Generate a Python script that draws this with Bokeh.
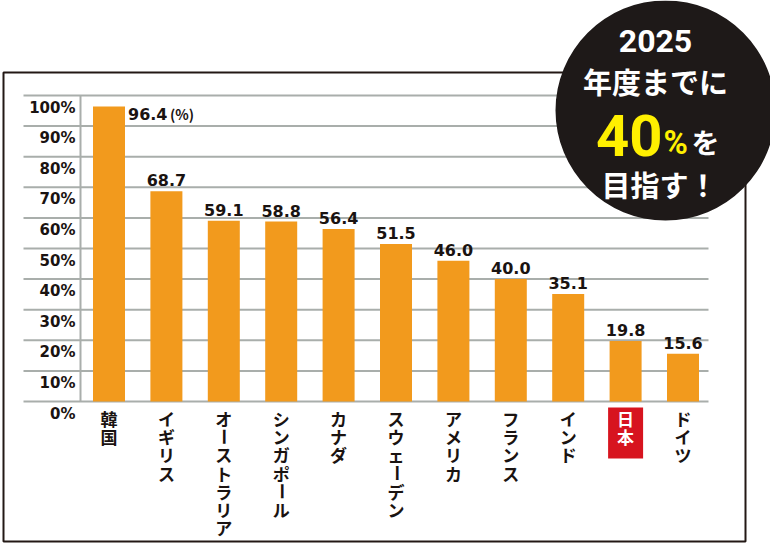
import math
from bokeh.plotting import figure
from bokeh.models import Range1d
from bokeh.core.properties import value
from bokeh.embed import file_html
from bokeh.resources import INLINE

# ---- data ----
countries = ["韓国", "イギリス", "オーストラリア", "シンガポール", "カナダ", "スウェーデン",
             "アメリカ", "フランス", "インド", "日本", "ドイツ"]
rates = [96.4, 68.7, 59.1, 58.8, 56.4, 51.5, 46.0, 40.0, 35.1, 19.8, 15.6]
y_ticks = [0, 10, 20, 30, 40, 50, 60, 70, 80, 90, 100]
y_tick_labels = ["0%", "10%", "20%", "30%", "40%", "50%", "60%", "70%", "80%", "90%", "100%"]
highlight_country = "日本"
unit_label = "(%)"
badge_year = "2025"
badge_line2 = "年度までに"
badge_target = "40"
badge_pct = "%"
badge_wo = "を"
badge_line4 = "目指す！"

# ---- layout (pixel geometry of the canvas) ----
W, H = 770, 544
PX_X = 57.4     # px per category step
PX_Y = 3.06     # px per percent
X0_PX = 108.5   # pixel x of first category centre
Y0_PX = 401.0   # pixel y of the 0% line


def X(px):
    return (px - X0_PX) / PX_X


def Y(py):
    return (Y0_PX - py) / PX_Y


ORANGE = "#F29A1D"
GRID = "#A9AEAB"
INK = "#1A1311"
JP = value("Noto Sans CJK JP")
NUM = value("DejaVu Sans")

p = figure(width=W, height=H, output_backend="svg", toolbar_location=None,
           x_range=Range1d(X(0), X(W)), y_range=Range1d(Y(H), Y(0)),
           x_axis_location=None, y_axis_location=None, min_border=0)
p.grid.visible = False
p.outline_line_color = None
p.background_fill_color = "white"
p.border_fill_color = "white"

n = len(countries)
idx = list(range(n))

# outer frame
p.quad(left=[X(3)], right=[X(745)], top=[Y(72)], bottom=[Y(541)],
       fill_color=None, line_color="#231815", line_width=2)

# grid lines and axis line
p.segment(x0=[X(23)] * len(y_ticks), x1=[X(708)] * len(y_ticks), y0=y_ticks, y1=y_ticks,
          line_color=GRID, line_width=2)
p.segment(x0=[X(80)], x1=[X(80)], y0=[y_ticks[0]], y1=[y_ticks[-1]],
          line_color=GRID, line_width=2)

# y tick labels (sit just below their grid line)
p.text(x=[X(75)] * len(y_ticks), y=[t - 12 / PX_Y for t in y_ticks], text=y_tick_labels,
       text_font=NUM, text_font_style="bold", text_font_size="15px", text_color=INK,
       text_align="right", text_baseline="middle")

# bars
p.vbar(x=idx, top=rates, bottom=0, width=32 / PX_X, fill_color=ORANGE, line_color=None)

# value labels
lx, ly, lt = [], [], []
for i, v in enumerate(rates[1:], start=1):
    lx.append(i)
    ly.append(v + 11 / PX_Y)
    lt.append(f"{v:.1f}")
p.text(x=lx, y=ly, text=lt, text_font=NUM, text_font_style="bold", text_font_size="16px",
       text_color=INK, text_align="center", text_baseline="middle")
# first bar label sits to the right of the bar
p.text(x=[0 + 19 / PX_X], y=[rates[0] - 7 / PX_Y], text=[f"{rates[0]:.1f}"],
       text_font=NUM, text_font_style="bold", text_font_size="16px", text_color=INK,
       text_align="left", text_baseline="middle")
p.text(x=[0 + 61 / PX_X], y=[rates[0] - 7 / PX_Y], text=[unit_label],
       text_font=JP, text_font_style="bold", text_font_size="14px", text_color=INK,
       text_align="left", text_baseline="middle")

# highlight box behind Japan label
hi = countries.index(highlight_country)
p.quad(left=[hi - 17.5 / PX_X], right=[hi + 17.5 / PX_X], top=[-6 / PX_Y], bottom=[-57 / PX_Y],
       fill_color="#D7141F", line_color=None)

# vertical category labels (one character per line)
cx, cy, ct, ca, cc = [], [], [], [], []
for i, name in enumerate(countries):
    for k, ch in enumerate(name):
        cx.append(i)
        cy.append(-(17 + 18.2 * k) / PX_Y)
        ct.append(ch)
        ca.append(math.pi / 2 if ch == "ー" else 0.0)
        cc.append("white" if name == highlight_country else INK)
p.text(x=cx, y=cy, text=ct, angle=ca, text_color=cc, text_font=JP, text_font_style="bold",
       text_font_size="17px", text_align="center", text_baseline="middle")

# badge circle
p.circle(x=[X(665)], y=[Y(110)], radius=110, radius_units="screen",
         fill_color="#1E1918", line_color=None)
p.text(x=[X(655)], y=[Y(40)], text=[badge_year], text_font=value("Roboto"),
       text_font_style="bold", text_font_size="32px", text_color="white",
       text_align="center", text_baseline="middle")
p.text(x=[X(655)], y=[Y(80)], text=[badge_line2], text_font=JP, text_font_style="bold",
       text_font_size="29px", text_color="white", text_align="center", text_baseline="middle")
p.text(x=[X(662)], y=[Y(135)], text=[badge_target], text_font=value("Roboto"),
       text_font_style="bold", text_font_size="58px", text_color="#FFF000",
       text_align="right", text_baseline="middle")
p.text(x=[X(663)], y=[Y(142)], text=[badge_pct], text_font=value("Roboto"),
       text_font_style="bold", text_font_size="33px", text_color="#FFF000",
       text_align="left", text_baseline="middle")
p.text(x=[X(691)], y=[Y(141)], text=[badge_wo], text_font=JP, text_font_style="bold",
       text_font_size="28px", text_color="white", text_align="left", text_baseline="middle")
p.text(x=[X(659)], y=[Y(183)], text=[badge_line4], text_font=JP, text_font_style="bold",
       text_font_size="29px", text_color="white", text_align="center", text_baseline="middle")

open("out.html", "w").write(file_html(p, INLINE))
